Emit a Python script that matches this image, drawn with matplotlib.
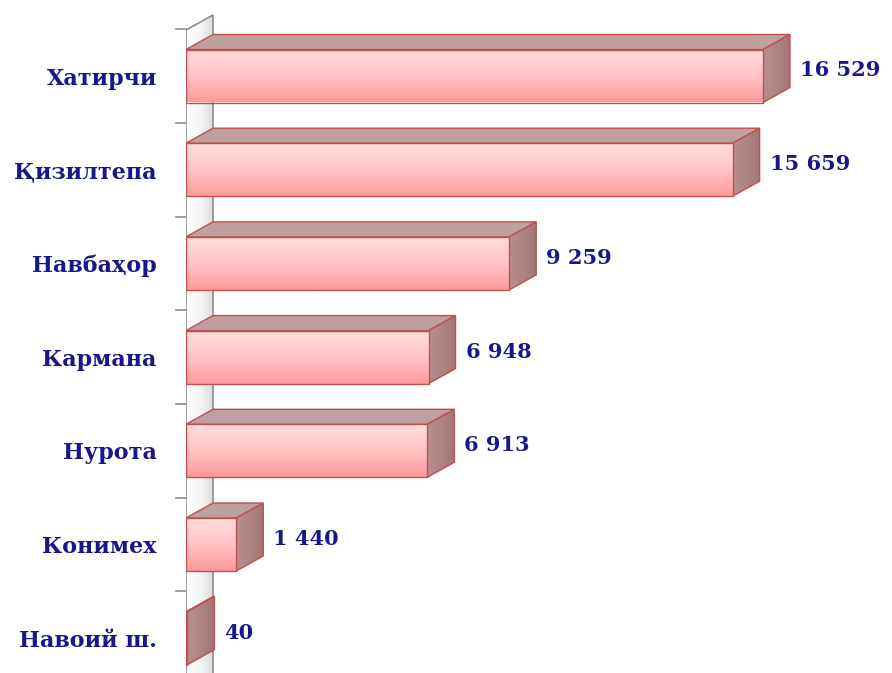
import numpy as np
import matplotlib.pyplot as plt
from matplotlib.patches import Polygon, Rectangle
from matplotlib.colors import LinearSegmentedColormap

districts = ['Хатирчи', 'Қизилтепа', 'Навбаҳор', 'Кармана', 'Нурота', 'Конимех', 'Навоий ш.']
values = [16529, 15659, 9259, 6948, 6913, 1440, 40]
value_labels = ['16 529', '15 659', '9 259', '6 948', '6 913', '1 440', '40']

W, H = 892, 673
px_per_unit = 577 / 16529      # horizontal pixels per value unit
row_px = 93.7                  # pixels per category row
x0_px = 186                    # value 0 position
xmax = (W - x0_px) / px_per_unit
ytop = -76 / row_px
ybot = (H - 76) / row_px

dx = 27 / px_per_unit          # 3d depth, horizontal
dy = 15 / row_px               # 3d depth, vertical (upwards)
bh = 53 / row_px               # bar thickness

navy = '#17178a'
edge = '#c0504d'

fig = plt.figure(figsize=(W / 100, H / 100), dpi=100)
ax = fig.add_axes([x0_px / W, 0, 1 - x0_px / W, 1])
ax.set_xlim(0, xmax)
ax.set_ylim(ybot, ytop)

# side wall
wall_top = ytop + 30 / row_px
wall = Polygon([(0, ybot + 1), (0, wall_top), (dx, wall_top - dy), (dx, ybot + 1)],
               closed=True, facecolor='none', edgecolor='#8c8c8c', lw=1.2, zorder=2)
ax.add_patch(wall)
wall_cmap = LinearSegmentedColormap.from_list('w', ['#ffffff', '#f6f6f6', '#dcdcdc'])
im = ax.imshow(np.linspace(0, 1, 50).reshape(1, -1), cmap=wall_cmap, aspect='auto',
               extent=(0, dx, ybot + 1, wall_top - dy), zorder=1)
im.set_clip_path(wall)

# ticks on the wall edge
for b in np.arange(-0.5, len(values) - 0.5, 1.0):
    ax.plot([-10 / px_per_unit, 0], [b, b], color='#8c8c8c', lw=1.2, zorder=2,
            clip_on=False)

front_cmap = LinearSegmentedColormap.from_list('f', ['#ffdcdc', '#ffc4c4', '#ff9a9a'])
side_cmap = LinearSegmentedColormap.from_list('s', ['#b89090', '#a47676'])

for i, v in enumerate(values):
    top = i - bh / 2
    bot = i + bh / 2
    # top face
    ax.add_patch(Polygon([(0, top), (v, top), (v + dx, top - dy), (dx, top - dy)],
                         closed=True, facecolor='#bfa0a0', edgecolor=edge, lw=1, zorder=3))
    # side face
    side = Polygon([(v, top), (v + dx, top - dy), (v + dx, bot - dy), (v, bot)],
                   closed=True, facecolor='none', edgecolor=edge, lw=1, zorder=5)
    ax.add_patch(side)
    sim = ax.imshow(np.linspace(0, 1, 50).reshape(1, -1), cmap=side_cmap, aspect='auto',
                    extent=(v, v + dx, bot, top - dy), zorder=4)
    sim.set_clip_path(side)
    # front face
    front = Rectangle((0, top), v, bh, facecolor='none', edgecolor=edge, lw=1, zorder=7)
    ax.add_patch(front)
    fim = ax.imshow(np.linspace(0, 1, 50).reshape(-1, 1), cmap=front_cmap, aspect='auto',
                    extent=(0, max(v, 1), bot, top), zorder=6)
    fim.set_clip_path(front)
    # value label
    ax.text(v + dx + 10 / px_per_unit, i - dy / 2 + 2 / row_px, value_labels[i],
            ha='left', va='center', color=navy, fontsize=15, fontweight='bold',
            family='DejaVu Serif', zorder=8)

ax.set_xlim(0, xmax)
ax.set_ylim(ybot, ytop)
ax.set_yticks(range(len(districts)))
ax.set_yticklabels(districts, color=navy, fontsize=16, fontweight='bold',
                   family='DejaVu Serif')
ax.tick_params(axis='y', length=0, pad=21)
ax.set_xticks([])
for s in ax.spines.values():
    s.set_visible(False)

fig.savefig('out.png', dpi=100)
